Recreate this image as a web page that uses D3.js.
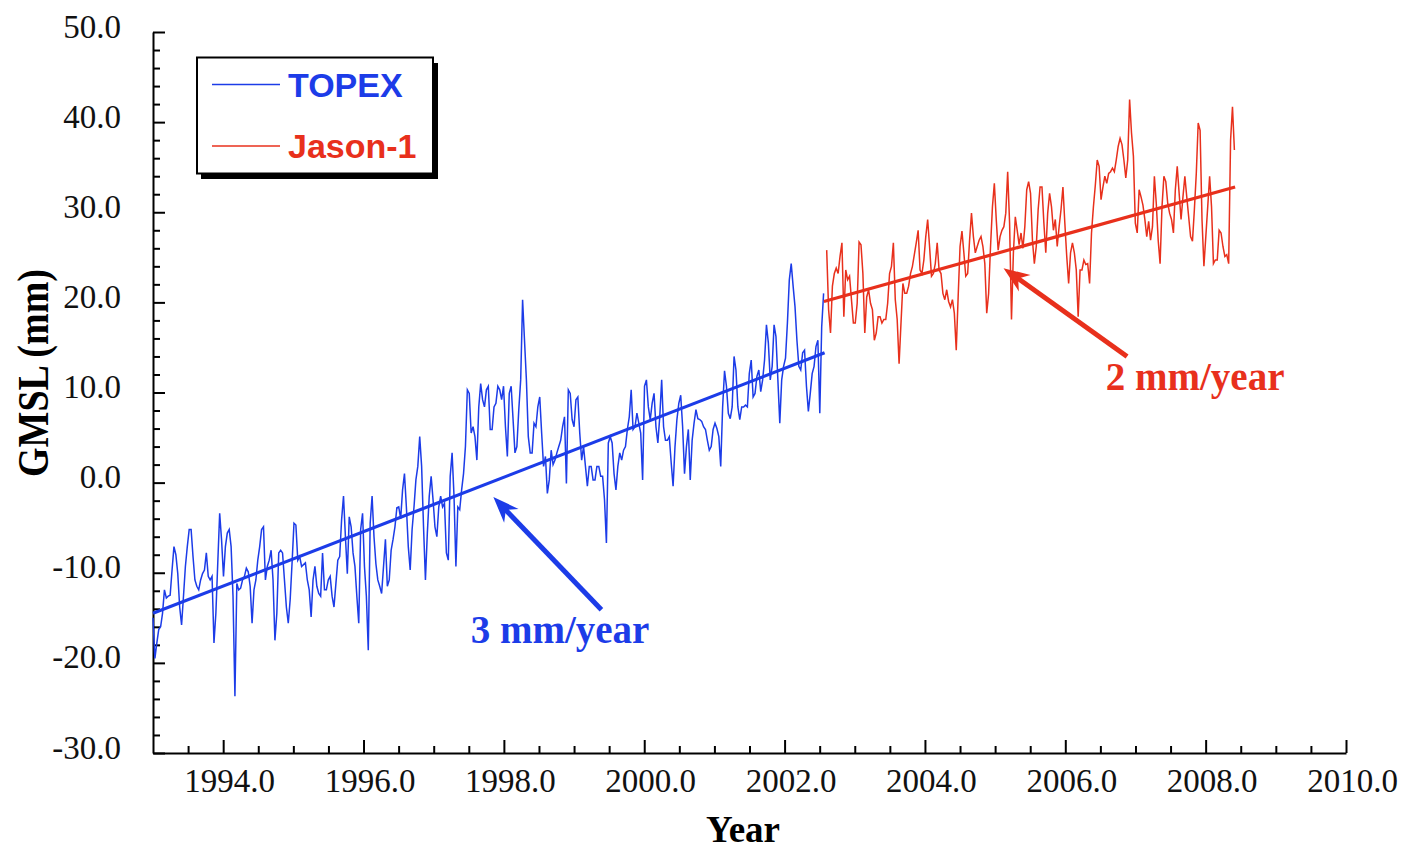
<!DOCTYPE html>
<html>
<head>
<meta charset="utf-8">
<script src="https://cdn.jsdelivr.net/npm/d3@7"></script>
<style>
  html, body { margin: 0; padding: 0; background: #fff; }
  svg { display: block; }
</style>
</head>
<body>
<svg id="chart"></svg>
<script>
// global mean sea level, one value per altimeter cycle (mm)
const cycleDays = 9.9156;

const topexStart = 1993.0;
const topexGmsl = [
  -15.0, -19.5, -17.8, -16.3, -16.0, -14.5, -11.9, -12.8, -12.6, -12.5,
  -9.7, -7.1, -8.0, -10.1, -13.8, -15.8, -12.6, -9.3, -7.1, -5.2,
  -5.2, -8.2, -10.8, -11.5, -11.9, -10.8, -10.1, -9.7, -7.8, -10.4,
  -10.8, -10.4, -17.8, -14.5, -8.9, -3.4, -6.4, -10.4, -7.1, -5.6,
  -5.2, -7.1, -12.6, -23.7, -11.2, -11.9, -11.7, -10.8, -10.4, -9.5,
  -9.9, -11.5, -15.6, -11.9, -10.8, -8.6, -7.1, -5.2, -4.9, -10.8,
  -9.3, -8.6, -7.5, -10.8, -17.5, -14.5, -7.8, -7.5, -7.8, -10.8,
  -13.8, -15.6, -13.0, -8.9, -4.5, -4.7, -8.6, -8.2, -9.3, -9.1,
  -8.9, -10.8, -11.9, -14.9, -10.8, -9.3, -11.5, -12.3, -12.6, -7.8,
  -11.9, -11.9, -10.8, -10.4, -12.6, -13.8, -11.2, -8.6, -8.2,
  -4.1, -1.5, -6.0, -10.1, -3.8, -4.9, -7.8, -9.3, -12.6, -15.6,
  -5.2, -3.4, -9.3, -12.6, -18.6, -4.5, -1.5, -6.0, -9.0, -10.8,
  -11.5, -12.3, -9.3, -6.3, -11.5, -10.8, -7.5, -6.3, -4.9, -2.8,
  -2.7, -4.0, -0.8, 1.0, -2.7, -7.1, -9.7, -5.2, -2.7, 0.3,
  1.8, 5.1, 1.8, -4.9, -10.8, -5.6, -1.5, 0.7, -1.9, -4.9,
  -6.0, -2.7, -1.5, -2.7, -2.3, -7.8, -8.6, 0.7, 3.3, -1.5,
  -9.3, -2.7, -3.0, -0.8, 1.0, 4.0, 10.3, 9.9, 5.5, 6.2,
  5.1, 2.5, 8.4, 11.0, 9.2, 8.4, 10.3, 10.7, 5.9, 5.9,
  8.4, 8.8, 10.7, 10.3, 9.2, 10.7, 6.2, 2.9,
  9.9, 10.7, 7.0, 3.3, 4.0, 8.1, 11.4, 20.3, 15.8, 11.4,
  5.1, 3.3, 3.3, 6.6, 6.2, 8.4, 9.5, 5.5, 1.8, 2.9,
  -1.2, 0.3, 3.6, 2.0, 2.5, 3.3, 4.0, 4.7, 6.2, 7.3,
  -0.1, 10.3, 9.9, 7.0, 6.2, 9.2, 9.5, 5.5, 2.5, 4.0,
  1.8, -0.4, 1.8, 1.8, 0.3, 0.3, 1.8, 1.8, 0.7, 0.7,
  -1.9, -6.7, 4.4, 5.1, 4.4, 1.0, -0.8, 1.8, 3.3, 2.5,
  3.6, 4.0, 5.9, 7.3, 10.3, 5.9, 6.2, 7.7, 6.6, 5.5,
  0.3, 10.7, 11.4, 8.4, 7.0, 8.8, 9.9, 6.2, 4.4, 7.3,
  11.4, 6.2, 4.7, 4.7, 5.1, 2.2, -0.4, 4.0, 7.0, 8.8,
  9.7, 6.2, 1.0, 4.0, 5.9, 0.3, 4.7, 6.6, 8.1, 7.1,
  7.0, 6.8, 6.2, 5.9, 4.7, 3.6, 4.0, 5.9, 6.6, 6.0,
  5.1, 1.8, 8.4, 12.4, 10.7, 7.7, 7.1, 8.4, 14.0, 12.5,
  8.4, 7.0, 8.4, 8.4, 8.6, 8.4, 12.1, 13.6, 9.5, 9.9,
  11.8, 12.5, 10.1, 11.4, 13.6, 17.5, 15.5, 11.4, 12.9, 17.5,
  16.2, 11.4, 6.6, 11.4, 12.9, 13.8, 17.7, 22.5, 24.3, 21.8,
  19.5, 15.8, 12.9, 12.5, 14.4, 14.7, 10.7, 7.9, 9.9, 12.1,
  12.9, 15.1, 15.8, 7.7, 17.3, 21.0
];

const jasonStart = 2002.60;
const jasonGmsl = [
  25.8, 19.2, 16.6, 21.8, 23.2, 23.8, 23.2, 25.1, 26.6, 18.4,
  23.6, 22.5, 22.9, 20.3, 17.7, 17.7, 19.9, 26.7, 26.4, 23.2,
  16.6, 20.6, 21.4, 19.9, 19.2, 15.8, 16.6, 18.4, 18.4, 17.7,
  18.1, 18.1, 19.9, 23.2, 24.0, 26.6, 20.3, 18.1, 13.2, 17.7,
  22.1, 21.0, 21.0, 21.8, 23.2, 24.0, 25.3, 26.6, 28.0, 23.6,
  23.2, 24.7, 27.3, 29.2, 26.2, 22.9, 23.2, 24.3, 26.6, 23.6,
  23.2, 21.0, 20.3, 21.4, 20.1, 19.5, 20.3, 18.8, 14.7, 20.6,
  26.2, 27.9, 25.5, 22.9, 23.2, 26.9, 29.9, 27.3, 25.5, 26.2,
  26.9, 27.3, 26.2, 24.3, 18.8, 21.0, 26.2, 30.6, 33.2, 29.2,
  25.8,
  27.3, 28.0, 28.4, 29.9, 34.5, 28.8, 18.1, 25.5, 29.5, 28.0,
  26.4, 27.7, 26.0, 28.4, 32.5, 33.4, 32.1, 26.9, 24.3, 26.2,
  30.3, 32.8, 32.8, 28.8, 25.5, 29.9, 32.1, 30.6, 28.0, 29.2,
  26.2, 28.4, 30.3, 32.8, 28.8, 25.1, 22.1, 25.5, 26.6, 25.5,
  23.6, 18.4, 23.6, 23.6, 24.7, 24.2, 24.3, 22.1, 27.7, 30.6,
  33.0, 35.8, 35.1, 31.4, 32.8, 34.0, 33.2, 34.3, 34.5, 34.9,
  34.5, 35.8, 37.3, 38.2, 37.5, 35.8, 33.8, 35.8, 42.5, 38.8,
  36.2, 28.8, 27.7, 32.5, 31.7, 30.8, 29.2, 27.3, 29.0, 26.9,
  28.4, 34.0, 31.0, 26.9, 24.3, 30.6, 34.0, 33.4, 31.0, 29.9,
  29.2, 27.7, 32.5, 35.1, 32.1, 29.2, 31.7, 34.0, 31.7, 29.5,
  27.3, 26.8, 30.3, 34.3, 39.9, 39.1, 29.2, 24.0, 27.3, 30.6,
  34.0, 30.6, 24.3, 24.7, 24.7, 28.0, 27.7, 26.2, 25.1, 25.3,
  24.3, 38.0, 41.7, 36.9
];

// linear fits [year, mm]
const topexTrend = [[1993.0, -14.5], [2002.57, 14.4]];
const jasonTrend = [[2002.56, 20.1], [2008.42, 32.8]];

const seriesNames = ["TOPEX", "Jason-1"];
const xTicks = [1994, 1996, 1998, 2000, 2002, 2004, 2006, 2008, 2010];
const yTicks = [-30, -20, -10, 0, 10, 20, 30, 40, 50];

// rate annotations: arrow from tail to tip, label position (year, mm)
const rateNotes = [
  { text: "3 mm/year", tail: [1999.39, -14.1], tip: [1997.85, -1.6], label: [1998.80, -17.8] },
  { text: "2 mm/year", tail: [2006.88, 14.0], tip: [2005.12, 23.8], label: [2007.85, 10.3] }
];

const blue = "#1c3ce8";
const red = "#e8301c";
const colors = [blue, red];
const serif = "'Liberation Serif', 'Times New Roman', Times, serif";
const sans = "'Liberation Sans', Arial, Helvetica, sans-serif";

const svg = d3.select("#chart")
  .attr("width", 1406)
  .attr("height", 851)
  .style("background", "#fff");

const x = d3.scaleLinear().domain([1993, 2010]).range([153, 1346]);
const y = d3.scaleLinear().domain([-30, 50]).range([753, 32]);

const toPoints = (start, vals) => vals.map((v, i) => ({ t: start + i * cycleDays / 365.25, v: v }));
const topex = toPoints(topexStart, topexGmsl);
const jason = toPoints(jasonStart, jasonGmsl);

// minor ticks
const xMinor = d3.range(1993.5, 2010, 0.5).filter(d => xTicks.indexOf(d) < 0);
const yMinor = d3.range(-28, 50, 2).filter(d => yTicks.indexOf(d) < 0);

svg.append("g")
  .attr("transform", "translate(0,753)")
  .call(d3.axisBottom(x).tickValues(xMinor).tickSize(-7).tickFormat(""))
  .call(g => g.select(".domain").remove())
  .call(g => g.selectAll(".tick line").attr("stroke-width", 2));

svg.append("g")
  .attr("transform", "translate(153,0)")
  .call(d3.axisLeft(y).tickValues(yMinor).tickSize(-7).tickFormat(""))
  .call(g => g.select(".domain").remove())
  .call(g => g.selectAll(".tick line").attr("stroke-width", 2));

// major axes
svg.append("g")
  .attr("transform", "translate(0,753)")
  .call(d3.axisBottom(x).tickValues(xTicks).tickSize(-13).tickSizeOuter(0)
    .tickPadding(16).tickFormat(d => d.toFixed(1)))
  .call(g => g.select(".domain").attr("stroke-width", 2))
  .call(g => g.selectAll(".tick line").attr("stroke-width", 2))
  .call(g => g.selectAll(".tick text")
    .attr("dx", 6)
    .attr("font-family", serif)
    .attr("font-size", 33)
    .attr("fill", "#111"));

svg.append("g")
  .attr("transform", "translate(153,0)")
  .call(d3.axisLeft(y).tickValues(yTicks).tickSize(-12).tickSizeOuter(0)
    .tickPadding(32).tickFormat(d => d.toFixed(1)))
  .call(g => g.select(".domain").attr("stroke-width", 2))
  .call(g => g.selectAll(".tick line").attr("stroke-width", 2))
  .call(g => g.selectAll(".tick text")
    .attr("dy", 5)
    .attr("font-family", serif)
    .attr("font-size", 33)
    .attr("fill", "#111"));

// axis titles
svg.append("text")
  .attr("x", 743)
  .attr("y", 842)
  .attr("text-anchor", "middle")
  .attr("font-family", serif)
  .attr("font-weight", "bold")
  .attr("font-size", 37)
  .text("Year");

svg.append("text")
  .attr("transform", "translate(48,373) scale(1.15,1) rotate(-90)")
  .attr("text-anchor", "middle")
  .attr("font-family", serif)
  .attr("font-weight", "bold")
  .attr("font-size", 38)
  .text("GMSL (mm)");

// series
const line = d3.line()
  .x(d => x(d.t))
  .y(d => y(d.v));

[topex, jason].forEach((data, i) => {
  svg.append("path")
    .datum(data)
    .attr("fill", "none")
    .attr("stroke", colors[i])
    .attr("stroke-width", 1.5)
    .attr("d", line);
});

const trendLine = d3.line()
  .x(d => x(d[0]))
  .y(d => y(d[1]));

[topexTrend, jasonTrend].forEach((data, i) => {
  svg.append("path")
    .datum(data)
    .attr("fill", "none")
    .attr("stroke", colors[i])
    .attr("stroke-width", 3.2)
    .attr("d", trendLine);
});

// arrows and rate labels
rateNotes.forEach((n, i) => {
  const tx = x(n.tip[0]), ty = y(n.tip[1]);
  const sx = x(n.tail[0]), sy = y(n.tail[1]);
  const len = Math.hypot(sx - tx, sy - ty);
  const ux = (sx - tx) / len, uy = (sy - ty) / len;
  const headLen = 26, headHalf = 10;
  const bx = tx + ux * headLen, by = ty + uy * headLen;

  svg.append("line")
    .attr("x1", sx).attr("y1", sy)
    .attr("x2", tx + ux * 12).attr("y2", ty + uy * 12)
    .attr("stroke", colors[i])
    .attr("stroke-width", 5);

  svg.append("path")
    .attr("d", `M${tx},${ty}L${bx - uy * headHalf},${by + ux * headHalf}` +
      `L${tx + ux * 18},${ty + uy * 18}L${bx + uy * headHalf},${by - ux * headHalf}Z`)
    .attr("fill", colors[i]);

  svg.append("text")
    .attr("x", x(n.label[0]))
    .attr("y", y(n.label[1]))
    .attr("text-anchor", "middle")
    .attr("font-family", serif)
    .attr("font-weight", "bold")
    .attr("font-size", 39)
    .attr("fill", colors[i])
    .text(n.text);
});

// legend
const legend = svg.append("g");
legend.append("rect")
  .attr("x", 201).attr("y", 63)
  .attr("width", 237).attr("height", 116)
  .attr("fill", "#000");
legend.append("rect")
  .attr("x", 197).attr("y", 57.5)
  .attr("width", 236).attr("height", 116)
  .attr("fill", "#fff")
  .attr("stroke", "#000")
  .attr("stroke-width", 2);

seriesNames.forEach((name, i) => {
  const ly = 84.5 + i * 61.5;
  legend.append("line")
    .attr("x1", 212).attr("x2", 280)
    .attr("y1", ly).attr("y2", ly)
    .attr("stroke", colors[i])
    .attr("stroke-width", 1.4);
  legend.append("text")
    .attr("x", 288)
    .attr("y", ly + 12)
    .attr("font-family", sans)
    .attr("font-weight", "bold")
    .attr("font-size", 34)
    .attr("fill", colors[i])
    .text(name);
});
</script>
</body>
</html>
